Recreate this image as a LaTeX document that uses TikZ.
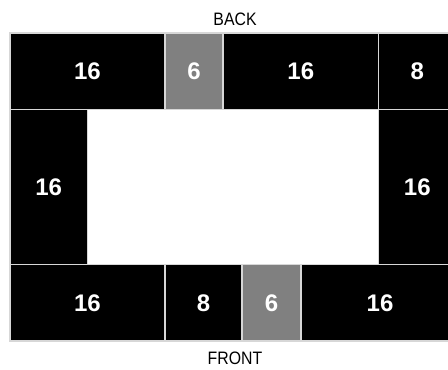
\documentclass[tikz,border=0pt]{standalone}
\usepackage{fontspec}
\setmainfont{Liberation Sans}
\begin{document}
\begin{tikzpicture}[x=0.75pt,y=-0.75pt,
  blk/.style={fill=black,draw={rgb,255:red,215;green,215;blue,215},line width=1.1pt},
  gry/.style={fill={rgb,255:red,128;green,128;blue,128},draw={rgb,255:red,215;green,215;blue,215},line width=1.1pt},
  wht/.style={fill=white,draw={rgb,255:red,215;green,215;blue,215},line width=1.1pt},
  lbl/.style={text=white,font=\fontsize{18}{20}\selectfont\bfseries,inner sep=0pt},
  sidelbl/.style={font=\fontsize{13.5}{15}\selectfont,inner sep=0pt}]
\useasboundingbox (0,0) rectangle (448,369);
\clip (0,0) rectangle (448,369);
% top row
\draw[blk] (10,33) rectangle (165,109.5) node[midway,lbl] (t1) {16};
\draw[gry] (165,33) rectangle (223,109.5) node[midway,lbl] (t2) {6};
\draw[blk] (223,33) rectangle (378.5,109.5) node[midway,lbl] (t3) {16};
\draw[blk] (378.5,33) rectangle (456,109.5) node[midway,lbl] (t4) {8};
% middle row
\draw[blk] (10,109.5) rectangle (87.5,264.5) node[midway,lbl] (m1) {16};
\draw[wht] (87.5,109.5) rectangle (378.5,264.5) coordinate (mc);
\draw[blk] (378.5,109.5) rectangle (456,264.5) node[midway,lbl] (m3) {16};
% bottom row
\draw[blk] (10,264.5) rectangle (165,341) node[midway,lbl] (b1) {16};
\draw[blk] (165,264.5) rectangle (242,341) node[midway,lbl] (b2) {8};
\draw[gry] (242,264.5) rectangle (301,341) node[midway,lbl] (b3) {6};
\draw[blk] (301,264.5) rectangle (459,341) node[midway,lbl] (b4) {16};
% labels
\node[sidelbl] (back) at (235,19) {\scalebox{0.88}[1]{BACK}};
\node[sidelbl] (front) at (235,358) {\scalebox{0.88}[1]{FRONT}};
\end{tikzpicture}
\end{document}
